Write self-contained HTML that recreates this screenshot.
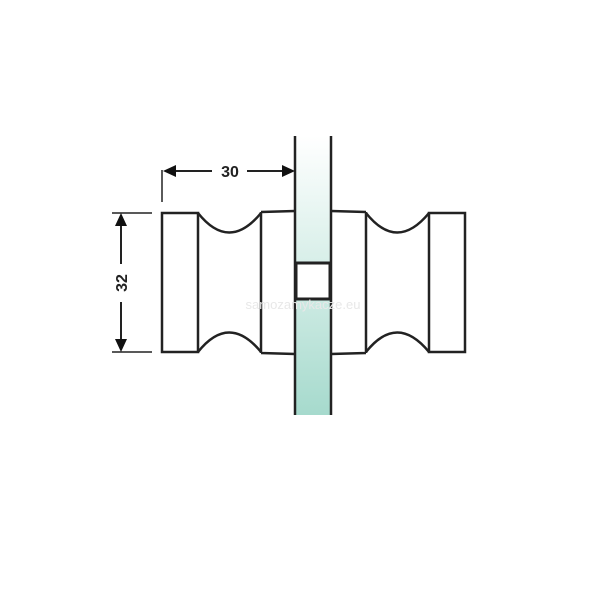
<!DOCTYPE html>
<html><head><style>body{margin:0;background:#fff}</style></head><body>
<svg width="611" height="611" viewBox="0 0 611 611" xmlns="http://www.w3.org/2000/svg">
<defs><linearGradient id="g" x1="0" y1="0" x2="0" y2="1">
<stop offset="0" stop-color="#ffffff"/><stop offset="0.45" stop-color="#d8efe9"/><stop offset="1" stop-color="#a6dacd"/></linearGradient></defs>
<rect x="295" y="136" width="36" height="279" fill="url(#g)"/>
<g fill="none" stroke="#222" stroke-width="2.5">
<line x1="295" y1="136" x2="295" y2="415"/><line x1="331" y1="136" x2="331" y2="415"/>
<rect x="162" y="213" width="36" height="139"/>
<path d="M198 213 Q229 252 261 213 M198 352 Q229 313 261 352"/>
<path d="M261 212 L295 211 M261 353 L295 354 M261 212 V353"/>
<rect x="429" y="213" width="36" height="139"/>
<path d="M366 213 Q397 252 429 213 M366 352 Q397 313 429 352"/>
<path d="M331 211 L366 212 M331 354 L366 353 M366 212 V353"/>
<rect x="296" y="263" width="34" height="36" stroke-width="3" fill="#fff"/>
<line x1="162" y1="170" x2="162" y2="202" stroke-width="1.5"/>
<line x1="170" y1="171" x2="212" y2="171" stroke-width="2"/>
<line x1="247" y1="171" x2="288" y2="171" stroke-width="2"/>
<line x1="112" y1="213" x2="152" y2="213" stroke-width="1.5"/>
<line x1="112" y1="352" x2="152" y2="352" stroke-width="1.5"/>
<line x1="121" y1="222" x2="121" y2="264" stroke-width="2"/>
<line x1="121" y1="302" x2="121" y2="343" stroke-width="2"/>
</g>
<g fill="#111">
<polygon points="163,171 176,165 176,177"/>
<polygon points="295,171 282,165 282,177"/>
<polygon points="121,213 115,226 127,226"/>
<polygon points="121,352 115,339 127,339"/>
</g>
<text x="230" y="177" font-family="Liberation Sans, sans-serif" font-weight="bold" font-size="16" text-anchor="middle" fill="#222">30</text>
<text transform="translate(127,283) rotate(-90)" font-family="Liberation Sans, sans-serif" font-weight="bold" font-size="16" text-anchor="middle" fill="#222">32</text>
<text x="303" y="309" font-family="Liberation Sans, sans-serif" font-size="13" text-anchor="middle" fill="#e8e8e8">samozamykacze.eu</text>
</svg>
</body></html>
